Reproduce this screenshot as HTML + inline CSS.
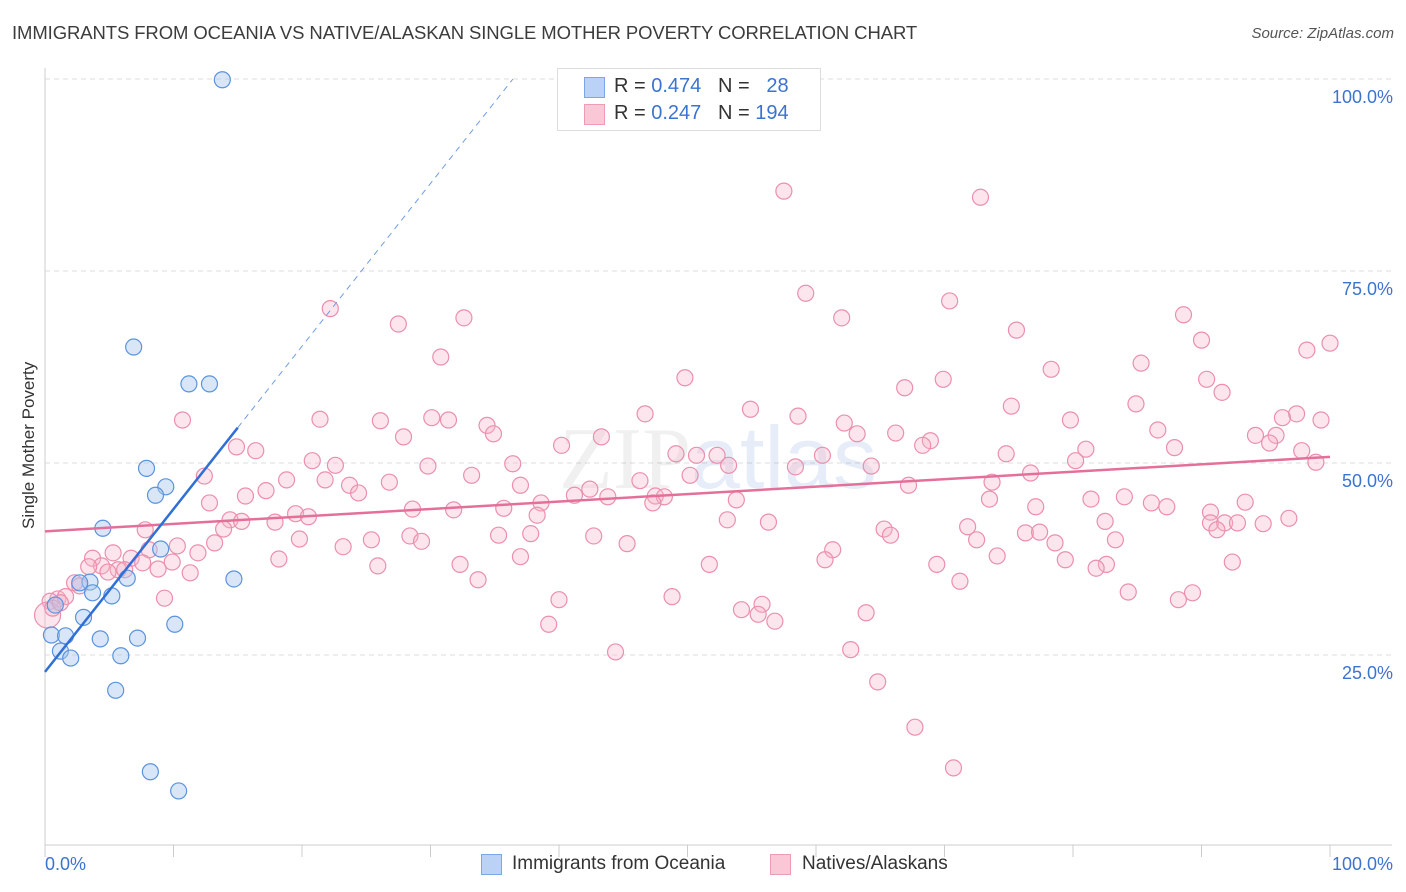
<!DOCTYPE html>
<html><head><meta charset="utf-8"><style>
body{margin:0;background:#fff;font-family:"Liberation Sans",sans-serif;}
#wrap{position:relative;width:1406px;height:892px;overflow:hidden;}
.t{position:absolute;white-space:nowrap;}
</style></head><body>
<div id="wrap">
<div class="t" style="left:12px;top:22px;font-size:18.5px;color:#3c3c3c;letter-spacing:-0.1px">IMMIGRANTS FROM OCEANIA VS NATIVE/ALASKAN SINGLE MOTHER POVERTY CORRELATION CHART</div>
<div class="t" style="right:12px;top:25px;font-size:15px;color:#555;font-style:italic">Source: ZipAtlas.com</div>
<div class="t" style="left:-46px;top:444px;font-size:17px;color:#333;transform:rotate(-90deg);width:150px;text-align:center">Single Mother Poverty</div>
<svg id="svg" width="1406" height="892" style="position:absolute;left:0;top:0"></svg>
<div style="position:absolute;left:557px;top:68px;width:262px;height:61px;border:1px solid #ddd;background:#fff;font-size:20px;">
 <div style="position:absolute;left:26px;top:8px;width:19px;height:19px;background:#b9d2f6;border:1px solid #7aa7e6"></div>
 <div class="t" style="left:56px;top:6px;color:#333">R = <span style="color:#3a74d0">0.474</span>&nbsp;&nbsp;&nbsp;N = &nbsp;&nbsp;<span style="color:#3a74d0">28</span></div>
 <div style="position:absolute;left:26px;top:35px;width:19px;height:19px;background:#f9c7d6;border:1px solid #ee9bb5"></div>
 <div class="t" style="left:56px;top:33px;color:#333">R = <span style="color:#3a74d0">0.247</span>&nbsp;&nbsp;&nbsp;N = <span style="color:#3a74d0">194</span></div>
</div>
<div style="position:absolute;left:481px;top:853px;font-size:19px;color:#333">
 <div style="position:absolute;left:0;top:1px;width:19px;height:19px;background:#b9d2f6;border:1px solid #7aa7e6"></div>
 <span class="t" style="left:31px;top:0">Immigrants from Oceania</span></div>
<div style="position:absolute;left:770px;top:853px;font-size:19px;color:#333">
 <div style="position:absolute;left:0;top:1px;width:19px;height:19px;background:#f9c7d6;border:1px solid #ee9bb5"></div>
 <span class="t" style="left:32px;top:0">Natives/Alaskans</span></div>
</div>
<script>
const blueX=[13.8,6.9,11.2,12.8,7.9,9.4,8.6,4.5,9.0,14.7,6.4,3.5,2.7,3.7,5.2,0.8,3.0,10.1,0.5,1.6,4.3,7.2,1.2,2.0,5.9,5.5,8.2,10.4];
const blueY=[99.9,65.1,60.3,60.3,49.3,46.9,45.8,41.5,38.8,34.9,35.0,34.5,34.4,33.1,32.7,31.5,29.9,29.0,27.6,27.5,27.1,27.2,25.5,24.6,24.9,20.4,9.8,7.3];
const pinkX=[57.5,72.8,59.2,22.2,70.4,62.0,32.6,27.5,75.6,88.6,90.0,100,98.2,30.8,85.3,78.3,49.8,69.9,90.4,66.9,91.6,75.2,84.9,54.9,10.7,21.4,26.1,30.1,31.4,46.7,58.6,79.8,97.4,96.3,99.3,34.4,34.9,62.2,63.2,86.6,94.2,95.8,43.3,27.9,66.2,68.9,14.9,16.4,68.3,40.2,81.0,87.9,95.3,97.8,49.1,50.7,52.3,60.5,74.8,80.2,20.8,22.6,29.8,36.4,53.2,58.4,64.3,98.9,12.4,33.2,50.2,76.7,18.8,21.8,23.7,26.8,37.0,46.3,67.2,73.7,17.2,24.4,15.6,41.2,43.8,47.5,48.2,42.4,53.8,73.5,81.4,84.0,86.1,87.3,93.4,12.8,38.6,47.3,77.1,28.6,31.8,35.7,38.3,90.7,96.8,19.5,20.5,14.4,15.3,17.9,53.1,56.3,82.5,90.7,91.8,92.8,94.8,7.8,13.9,65.3,71.8,91.2,35.3,37.8,76.3,77.4,65.8,83.3,28.4,29.3,19.8,25.4,42.7,72.5,10.3,13.2,23.2,45.3,78.6,8.1,11.9,61.3,5.3,3.7,6.7,18.2,37.0,60.7,74.1,79.4,92.4,4.4,9.9,7.6,32.3,51.7,69.4,82.6,25.9,5.7,3.4,4.9,6.2,8.8,11.3,81.8,2.3,2.7,33.7,71.2,84.3,89.3,88.2,40.0,48.8,9.3,1.0,1.6,0.4,0.2,0.6,1.2,55.8,54.2,55.5,63.9,56.8,39.2,44.4,62.7,64.8,67.7,70.7];
const pinkY=[85.4,84.6,72.1,70.1,71.1,68.9,68.9,68.1,67.3,69.3,66.0,65.6,64.7,63.8,63.0,62.2,61.1,60.9,60.9,59.8,59.2,57.4,57.7,57.0,55.6,55.7,55.5,55.9,55.6,56.4,56.1,55.6,56.4,55.9,55.6,54.9,53.8,55.2,53.8,54.3,53.6,53.6,53.4,53.4,53.9,52.9,52.1,51.6,52.3,52.3,51.8,52.0,52.6,51.6,51.2,51.0,51.0,51.0,51.2,50.3,50.3,49.7,49.6,49.9,49.7,49.5,49.6,50.1,48.3,48.4,48.4,48.7,47.8,47.8,47.1,47.5,47.1,47.7,47.1,47.5,46.4,46.1,45.7,45.8,45.6,45.7,45.6,46.6,45.2,45.3,45.3,45.6,44.8,44.3,44.9,44.8,44.8,44.8,44.3,44.0,43.9,44.1,43.2,43.6,42.8,43.4,43.0,42.6,42.4,42.3,42.6,42.3,42.4,42.2,42.2,42.2,42.1,41.3,41.4,41.4,41.7,41.3,40.6,40.8,40.9,41.0,40.6,40.0,40.5,39.8,40.1,40.0,40.5,40.0,39.2,39.6,39.1,39.5,39.6,38.7,38.3,38.7,38.3,37.6,37.6,37.5,37.8,37.4,37.9,37.4,37.1,36.6,37.1,37.0,36.8,36.8,36.8,36.8,36.6,36.1,36.5,35.8,36.1,36.2,35.7,36.3,34.4,34.0,34.8,34.6,33.2,33.1,32.2,32.2,32.6,32.4,32.3,32.6,32.0,30.2,31.1,31.8,31.6,30.9,30.3,30.5,29.4,29.0,25.4,25.7,21.5,15.6,10.3];
const blueTrend=[22.8,2.12]; // intercept, slope (%)
const pinkTrend=[41.1,0.097];
const yTicks=[25,50,75,100];
const xTickLabels=["0.0%","100.0%"];

const X=v=>45+v*12.85, Y=v=>847-v*7.68;
const svg=document.getElementById('svg');const NS='http://www.w3.org/2000/svg';
function mk(t,a){const e=document.createElementNS(NS,t);for(const k in a)e.setAttribute(k,a[k]);svg.appendChild(e);return e;}
yTicks.forEach(v=>{
 const g=mk('line',{x1:45,x2:1392,y1:Y(v),y2:Y(v),stroke:'#ddd','stroke-dasharray':'5,4'});
 
 
 const t=mk('text',{x:1393,y:Y(v)+24,'text-anchor':'end','font-size':18,fill:'#3a74d0','font-family':'Liberation Sans'});
 t.textContent=v.toFixed(1)+'%';
 
 
});
let a=mk('line',{x1:45,x2:45,y1:68,y2:845,stroke:'#ccc'});


a=mk('line',{x1:45,x2:1392,y1:845,y2:845,stroke:'#ccc'});


for(let i=0;i<=10;i++){const tk=mk('line',{x1:X(i*10),x2:X(i*10),y1:845,y2:857,stroke:'#ccc'});
 
 }
[[0,'start',45],[100,'end',1393]].forEach((p,i)=>{const t=mk('text',{x:p[2],y:870,'text-anchor':p[1],'font-size':18,fill:'#3a74d0','font-family':'Liberation Sans'});t.textContent=xTickLabels[i];
 
 });
const w=mk('text',{x:718,y:488,'text-anchor':'middle','font-size':88,fill:'#000','fill-opacity':0.06,'font-family':'Liberation Serif'});
w.innerHTML='ZIP<tspan font-family="Liberation Sans" fill="#3a74d0" fill-opacity="0.13">atlas</tspan>';


pinkX.forEach((x,i)=>{const big=(x<0.3&&pinkY[i]<31);const c=mk('circle',{cx:X(x),cy:Y(pinkY[i]),r:big?13:8,fill:'#f5b5c9','fill-opacity':0.35,stroke:'#eb8fad','stroke-width':1.2});
 
 });
blueX.forEach((x,i)=>{const c=mk('circle',{cx:X(x),cy:Y(blueY[i]),r:8,fill:'#a9c8f0','fill-opacity':0.45,stroke:'#5b93dd','stroke-width':1.2});
 
 });
let l=mk('line',{x1:X(0),y1:Y(pinkTrend[0]),x2:X(100),y2:Y(pinkTrend[0]+100*pinkTrend[1]),stroke:'#e4709a','stroke-width':2.5});


l=mk('line',{x1:X(0),y1:Y(blueTrend[0]),x2:X(15),y2:Y(blueTrend[0]+15*blueTrend[1]),stroke:'#2f6fd6','stroke-width':2.5});


const xe=(100-blueTrend[0])/blueTrend[1];
l=mk('line',{x1:X(15),y1:Y(blueTrend[0]+15*blueTrend[1]),x2:X(xe),y2:Y(100),stroke:'#6f9ee3','stroke-width':1,'stroke-dasharray':'6,5'});


</script>
</body></html>
